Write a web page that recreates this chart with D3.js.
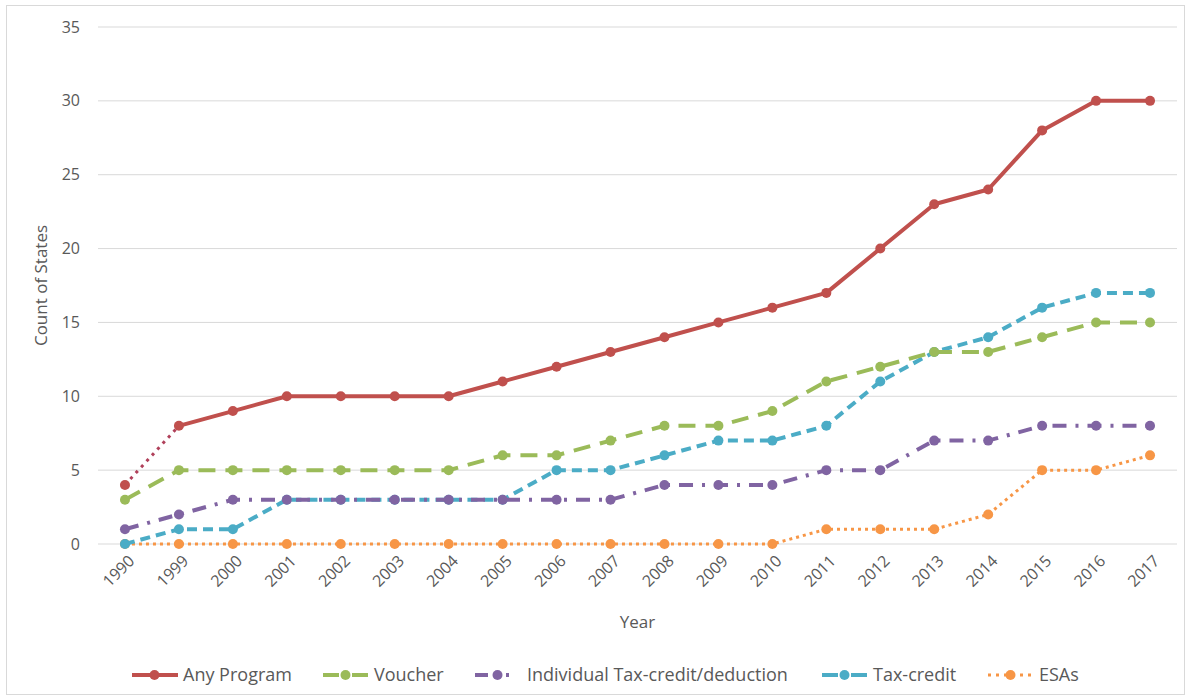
<!DOCTYPE html>
<html>
<head>
<meta charset="utf-8">
<script src="https://cdn.jsdelivr.net/npm/d3@7"></script>
<style>
  body { margin: 0; background: #fff; }
  svg text { font-family: "Open Sans", "Noto Sans", sans-serif; fill: #595959; }
</style>
</head>
<body>
<svg id="chart" width="1190" height="700"></svg>
<script>
// Data
const years = ['1990', '1999', '2000', '2001', '2002', '2003', '2004', '2005', '2006', '2007',
  '2008', '2009', '2010', '2011', '2012', '2013', '2014', '2015', '2016', '2017'];
const anyProgram = [4, 8, 9, 10, 10, 10, 10, 11, 12, 13, 14, 15, 16, 17, 20, 23, 24, 28, 30, 30];
const voucher = [3, 5, 5, 5, 5, 5, 5, 6, 6, 7, 8, 8, 9, 11, 12, 13, 13, 14, 15, 15];
const individualTax = [1, 2, 3, 3, 3, 3, 3, 3, 3, 3, 4, 4, 4, 5, 5, 7, 7, 8, 8, 8];
const taxCredit = [0, 1, 1, 3, 3, 3, 3, 3, 5, 5, 6, 7, 7, 8, 11, 13, 14, 16, 17, 17];
const esas = [0, 0, 0, 0, 0, 0, 0, 0, 0, 0, 0, 0, 0, 1, 1, 1, 2, 5, 5, 6];
const yTicks = [0, 5, 10, 15, 20, 25, 30, 35];

// drawn bottom-up, Any Program on top
const series = [
  { name: 'ESAs', values: esas, color: '#F79646', dash: '3,4', width: 3, legendX: 988, legendDash: '3,5' },
  { name: 'Tax-credit', values: taxCredit, color: '#4BACC6', dash: '10,6', width: 4, legendX: 822, legendDash: '16,13' },
  { name: 'Individual Tax-credit/deduction', values: individualTax, color: '#8064A2', dash: '14,9,3,9', width: 4, legendX: 475, legendDash: '13,18,3,20' },
  { name: 'Voucher', values: voucher, color: '#9BBB59', dash: '17,10', width: 4, legendX: 323, legendDash: '16,13' },
  { name: 'Any Program', values: anyProgram, color: '#C0504D', dash: null, width: 4, legendX: 132, legendDash: null }
];

const svg = d3.select('#chart');
const margin = { top: 27, left: 98, right: 13, bottom: 156 };
const W = 1190, H = 700;

// outer chart border
svg.append('rect')
  .attr('x', 6.5).attr('y', 5.5)
  .attr('width', W - 12).attr('height', H - 11)
  .attr('fill', 'none').attr('stroke', '#d9d9d9').attr('stroke-width', 1);

const x = d3.scalePoint()
  .domain(years)
  .range([margin.left, W - margin.right])
  .padding(0.5);

const y = d3.scaleLinear()
  .domain([0, 35])
  .range([H - margin.bottom, margin.top]);

// gridlines
svg.append('g')
  .selectAll('line')
  .data(yTicks)
  .join('line')
  .attr('x1', margin.left).attr('x2', W - margin.right)
  .attr('y1', d => y(d)).attr('y2', d => y(d))
  .attr('stroke', '#d9d9d9').attr('stroke-width', 1);

// y axis labels
const yAxis = svg.append('g')
  .attr('transform', `translate(${margin.left - 18},0)`)
  .call(d3.axisLeft(y).tickValues(yTicks).tickSize(0).tickPadding(0));
yAxis.select('.domain').remove();
yAxis.selectAll('text')
  .style('font-size', '16px')
  .attr('fill', '#595959');

// x axis labels
const xAxis = svg.append('g')
  .attr('transform', `translate(0,${y(0) + 10})`)
  .call(d3.axisBottom(x).tickSize(0).tickPadding(0));
xAxis.select('.domain').remove();
xAxis.selectAll('text')
  .style('font-size', '16px')
  .attr('fill', '#595959')
  .attr('text-anchor', 'end')
  .attr('dy', '0.35em')
  .attr('transform', 'translate(6,4) rotate(-45)');

// axis titles
svg.append('text')
  .attr('transform', `translate(47,${(y(0) + y(35)) / 2}) rotate(-90)`)
  .attr('text-anchor', 'middle')
  .style('font-size', '17px')
  .text('Count of States');

svg.append('text')
  .attr('x', (margin.left + W - margin.right) / 2)
  .attr('y', 628)
  .attr('text-anchor', 'middle')
  .style('font-size', '17px')
  .text('Year');

const line = d3.line()
  .x((d, i) => x(years[i]))
  .y(d => y(d));

series.forEach(s => {
  const g = svg.append('g');
  if (s.name === 'Any Program') {
    // first segment (1990-1999) is drawn dotted in the original
    g.append('path')
      .datum(s.values.slice(0, 2))
      .attr('d', line)
      .attr('fill', 'none')
      .attr('stroke', '#B0405A')
      .attr('stroke-width', 3)
      .attr('stroke-dasharray', '3,5');
    g.append('path')
      .datum(s.values.slice(1))
      .attr('d', d3.line().x((d, i) => x(years[i + 1])).y(d => y(d)))
      .attr('fill', 'none')
      .attr('stroke', s.color)
      .attr('stroke-width', s.width)
      .attr('stroke-linejoin', 'round');
  } else {
    g.append('path')
      .datum(s.values)
      .attr('d', line)
      .attr('fill', 'none')
      .attr('stroke', s.color)
      .attr('stroke-width', s.width)
      .attr('stroke-dasharray', s.dash);
  }
  g.selectAll('circle')
    .data(s.values)
    .join('circle')
    .attr('cx', (d, i) => x(years[i]))
    .attr('cy', d => y(d))
    .attr('r', 5)
    .attr('fill', s.color);
});

// legend
const legendY = 675;
const legend = svg.append('g');
series.slice().reverse().forEach(s => {
  const g = legend.append('g').attr('transform', `translate(${s.legendX},${legendY})`);
  g.append('line')
    .attr('x1', 0).attr('x2', 46)
    .attr('stroke', s.color)
    .attr('stroke-width', s.width)
    .attr('stroke-dasharray', s.legendDash);
  g.append('circle').attr('cx', 22.5).attr('r', 5).attr('fill', s.color);
  g.append('text')
    .attr('x', s.name === 'Individual Tax-credit/deduction' ? 52 : 51)
    .attr('dy', '0.35em')
    .style('font-size', '18px')
    .text(s.name);
});
</script>
</body>
</html>
